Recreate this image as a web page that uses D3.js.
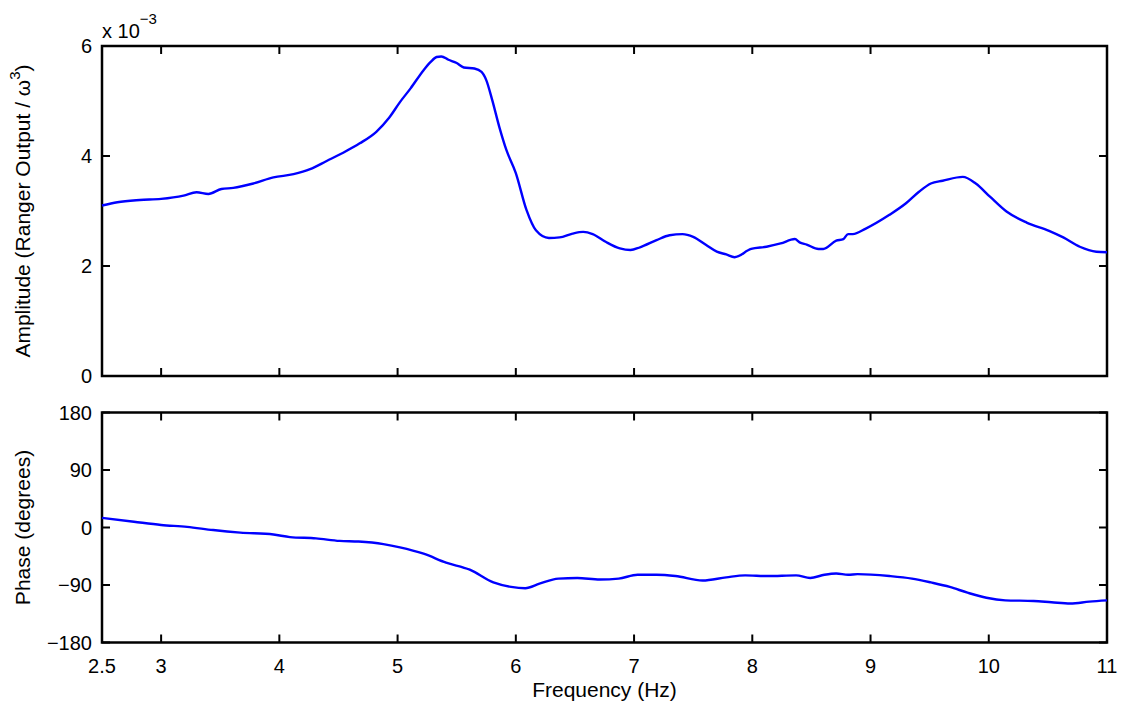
<!DOCTYPE html>
<html><head><meta charset="utf-8">
<script src="https://cdn.jsdelivr.net/npm/d3@7"></script>
<style>body{margin:0;background:#fff;} text{font-family:"Liberation Sans",Arial,sans-serif;fill:#000;}</style>
</head><body>
<svg id="c" width="1130" height="708"></svg>
<script>
// Amplitude (x 1e-3) vs frequency (Hz)
const ampFreq = [2.5,2.63,2.82,3.0,3.19,3.30,3.40,3.51,3.61,3.78,3.95,4.12,4.26,4.40,4.54,4.68,4.82,4.93,5.02,5.11,5.22,5.28,5.33,5.37,5.43,5.50,5.56,5.65,5.71,5.75,5.80,5.86,5.92,6.00,6.09,6.17,6.28,6.37,6.48,6.57,6.65,6.76,6.88,6.97,7.05,7.19,7.30,7.41,7.50,7.61,7.70,7.78,7.85,7.99,8.12,8.24,8.36,8.40,8.46,8.56,8.60,8.71,8.77,8.81,8.85,8.96,9.16,9.30,9.41,9.51,9.61,9.78,9.89,10.01,10.15,10.32,10.51,10.63,10.77,10.91,11.0];
const ampVal  = [3.10,3.16,3.20,3.22,3.28,3.34,3.31,3.40,3.42,3.50,3.61,3.67,3.76,3.91,4.06,4.23,4.44,4.70,4.98,5.23,5.56,5.71,5.80,5.81,5.75,5.69,5.61,5.59,5.53,5.38,5.02,4.53,4.11,3.69,3.02,2.65,2.51,2.52,2.59,2.62,2.58,2.44,2.32,2.29,2.34,2.47,2.56,2.58,2.53,2.38,2.26,2.21,2.16,2.31,2.35,2.41,2.49,2.43,2.39,2.31,2.31,2.46,2.49,2.58,2.58,2.68,2.93,3.14,3.35,3.50,3.55,3.62,3.50,3.26,2.99,2.79,2.64,2.52,2.35,2.26,2.25];
// Phase (degrees) vs frequency (Hz)
const phFreq = [2.5,2.77,3.0,3.22,3.44,3.67,3.95,4.09,4.31,4.51,4.67,4.88,5.02,5.22,5.41,5.61,5.81,5.96,6.08,6.20,6.36,6.52,6.71,6.87,7.03,7.19,7.35,7.58,7.78,7.94,8.13,8.37,8.49,8.61,8.71,8.81,8.89,9.16,9.35,9.51,9.67,9.82,9.98,10.14,10.38,10.53,10.69,10.85,11.0];
const phVal  = [15,9,4,1,-4,-8,-11,-15,-17,-21,-22,-26,-31,-41,-55,-66,-86,-93,-95,-88,-80,-79,-81.5,-80,-74,-74,-76,-83,-78,-75,-76,-75,-79,-74,-72,-74,-73,-76,-80,-86,-93,-102,-110,-114,-115,-117,-119,-116,-114];
const xTicks = [2.5,3,4,5,6,7,8,9,10,11];
const ampTicks = [0,2,4,6];
const phTicks = [-180,-90,0,90,180];

const svg = d3.select("#c");
const L = 102, R = 1107;
const x = d3.scaleLinear().domain([2.5, 11]).range([L, R]);
const yA = d3.scaleLinear().domain([0, 6]).range([376, 46]);
const yP = d3.scaleLinear().domain([-180, 180]).range([642.5, 412.5]);
const fs = 20, fl = 21;
const fmt = v => (v < 0 ? "\u2212" + Math.abs(v) : String(v));

function panel(y, yTicks, showXLabels) {
  const [y0, y1] = y.range(); // bottom, top
  const g = svg.append("g");
  const tl = 8;
  xTicks.forEach(t => {
    const px = x(t);
    g.append("line").attr("x1", px).attr("x2", px).attr("y1", y0).attr("y2", y0 - tl).attr("stroke", "#000").attr("stroke-width", 2);
    g.append("line").attr("x1", px).attr("x2", px).attr("y1", y1).attr("y2", y1 + tl).attr("stroke", "#000").attr("stroke-width", 2);
    if (showXLabels) g.append("text").attr("x", px).attr("y", y0 + 30).attr("text-anchor", "middle").attr("font-size", fs).text(t);
  });
  yTicks.forEach(t => {
    const py = y(t);
    g.append("line").attr("x1", L).attr("x2", L + tl).attr("y1", py).attr("y2", py).attr("stroke", "#000").attr("stroke-width", 2);
    g.append("line").attr("x1", R).attr("x2", R - tl).attr("y1", py).attr("y2", py).attr("stroke", "#000").attr("stroke-width", 2);
    g.append("text").attr("x", L - 10).attr("y", py).attr("dy", "0.36em").attr("text-anchor", "end").attr("font-size", fs).text(fmt(t));
  });
  g.append("rect").attr("x", L).attr("y", y1).attr("width", R - L).attr("height", y0 - y1).attr("fill", "none").attr("stroke", "#000").attr("stroke-width", 2.5);
  return g;
}

panel(yA, ampTicks, false);
panel(yP, phTicks, true);

const lineA = d3.line().x((d, i) => x(ampFreq[i])).y(d => yA(d)).curve(d3.curveMonotoneX);
svg.append("path").attr("d", lineA(ampVal)).attr("fill", "none").attr("stroke", "#0000ff").attr("stroke-width", 2.4);
const lineP = d3.line().x((d, i) => x(phFreq[i])).y(d => yP(d)).curve(d3.curveMonotoneX);
svg.append("path").attr("d", lineP(phVal)).attr("fill", "none").attr("stroke", "#0000ff").attr("stroke-width", 2.4);

// exponent label
const ex = svg.append("text").attr("x", L).attr("y", 38).attr("font-size", fs);
ex.append("tspan").text("x 10");
ex.append("tspan").attr("dy", -14).attr("font-size", 15).text("\u22123");

// axis titles
const ta = svg.append("text").attr("transform", `translate(30,${(46 + 376) / 2}) rotate(-90)`).attr("text-anchor", "middle").attr("font-size", fl);
ta.append("tspan").text("Amplitude (Ranger Output / \u03c9");
ta.append("tspan").attr("dy", -10).attr("font-size", 15).text("3");
ta.append("tspan").attr("dy", 10).text(")");
svg.append("text").attr("transform", `translate(30,${(412.5 + 642.5) / 2}) rotate(-90)`).attr("text-anchor", "middle").attr("font-size", fl).text("Phase (degrees)");
svg.append("text").attr("x", (L + R) / 2).attr("y", 697).attr("text-anchor", "middle").attr("font-size", fl).text("Frequency (Hz)");
</script>
</body></html>
